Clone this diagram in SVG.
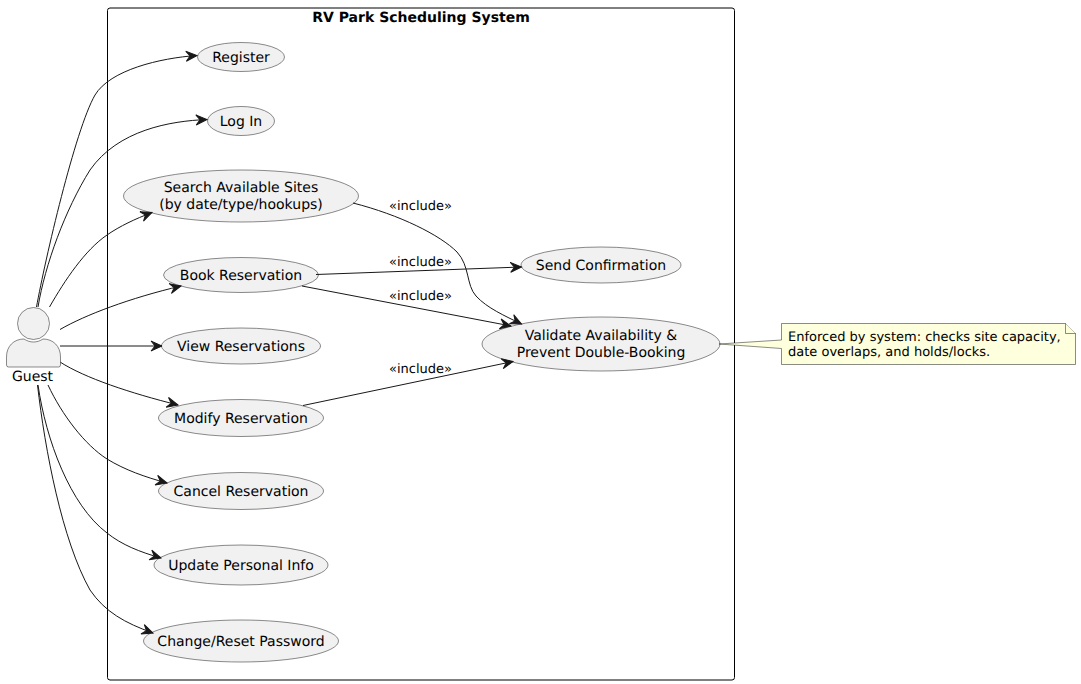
<svg xmlns="http://www.w3.org/2000/svg" width="1081" height="684" viewBox="0 0 1081 684">
<style>
text{font-family:"DejaVu Sans",sans-serif;font-size:14px;fill:#000;text-rendering:geometricPrecision}
.uc ellipse{fill:#F1F1F1;stroke:#181818;stroke-width:.5}
.c{fill:none;stroke:#181818;stroke-width:1}
.h{fill:#181818;stroke:#181818;stroke-width:1}
.l{font-size:13px}
.m{text-anchor:middle}
</style>
<defs>
<marker id="a" markerUnits="userSpaceOnUse" markerWidth="14" markerHeight="12" refX="11" refY="5" orient="auto" overflow="visible"><path class="h" d="M0,0 L11,5 L0,10 L4,5 Z"/></marker>
</defs>
<g id="system">
<rect x="107.5" y="8" width="627" height="672" rx="2.5" fill="none" stroke="#000" stroke-width="1"/>
<text x="421" y="22" class="m" style="font-weight:bold">RV Park Scheduling System</text>
</g>
<g class="uc" id="register"><ellipse cx="241" cy="57" rx="43.5" ry="14.5"/><text x="241" y="62" class="m">Register</text></g>
<g class="uc" id="login"><ellipse cx="241" cy="121" rx="33.5" ry="14.5"/><text x="241" y="126" class="m">Log In</text></g>
<g class="uc" id="search"><ellipse cx="241" cy="196" rx="117.5" ry="26"/><text x="241" y="192" class="m">Search Available Sites</text><text x="241" y="209" class="m">(by date/type/hookups)</text></g>
<g class="uc" id="book"><ellipse cx="241" cy="275" rx="77.5" ry="17.5"/><text x="241" y="280" class="m">Book Reservation</text></g>
<g class="uc" id="view"><ellipse cx="241" cy="346" rx="79.5" ry="18"/><text x="241" y="351" class="m">View Reservations</text></g>
<g class="uc" id="modify"><ellipse cx="241" cy="418" rx="82.5" ry="18.5"/><text x="241" y="423" class="m">Modify Reservation</text></g>
<g class="uc" id="cancel"><ellipse cx="241" cy="491" rx="82.5" ry="18.5"/><text x="241" y="496" class="m">Cancel Reservation</text></g>
<g class="uc" id="update"><ellipse cx="241" cy="565" rx="87" ry="20"/><text x="241" y="570" class="m">Update Personal Info</text></g>
<g class="uc" id="password"><ellipse cx="241" cy="641" rx="97.5" ry="21"/><text x="241" y="646" class="m">Change/Reset Password</text></g>
<g class="uc" id="confirm"><ellipse cx="601" cy="265" rx="80" ry="18"/><text x="601" y="270" class="m">Send Confirmation</text></g>
<g class="uc" id="validate"><ellipse cx="601" cy="344" rx="119" ry="27"/><text x="601" y="340" class="m">Validate Availability &amp;</text><text x="601" y="357" class="m">Prevent Double-Booking</text></g>
<g id="connectors">
<path class="c" marker-end="url(#a)" d="M36.5,307 C45,260 75,130 95,95 C110,70 160,58 197,55.5"/>
<path class="c" marker-end="url(#a)" d="M38,307 C45,265 65,210 90,170 C118,130 170,121 207,119.5"/>
<path class="c" marker-end="url(#a)" d="M49.5,307 C65,280 85,250 107,235 C120,226 135,219 152,212.5"/>
<path class="c" marker-end="url(#a)" d="M60,329.5 C85,315 130,298 181,286"/>
<path class="c" marker-end="url(#a)" d="M60,346 L162,346"/>
<path class="c" marker-end="url(#a)" d="M60,362 C85,378 130,393 178,405"/>
<path class="c" marker-end="url(#a)" d="M48,385 C62,415 85,445 107,459 C125,470 145,477 167,483"/>
<path class="c" marker-end="url(#a)" d="M38,385 C46,440 70,505 107,533 C122,545 140,552 161,558"/>
<path class="c" marker-end="url(#a)" d="M37.5,385 C45,450 62,540 90,590 C105,612 125,623 153,633"/>
<path class="c" marker-end="url(#a)" d="M353,203 C400,215 440,235 457,252 C470,266 466,285 476,296 C487,308 505,316 521.5,324"/>
<path class="c" marker-end="url(#a)" d="M316,274.5 L521.5,267"/>
<path class="c" marker-end="url(#a)" d="M302,286 L511,326"/>
<path class="c" marker-end="url(#a)" d="M303,405.5 L513,361.5"/>
<text class="l" x="389" y="210">«include»</text>
<text class="l" x="389" y="266">«include»</text>
<text class="l" x="389" y="300">«include»</text>
<text class="l" x="389" y="373">«include»</text>
</g>
<g id="guest">
<circle cx="33.5" cy="323.5" r="16" fill="#F1F1F1" stroke="#181818" stroke-width=".5"/>
<path d="M6.5,365 V357 C6.5,346 14,339 24,339 C30,343 37,343 43,339 C53,339 60.5,346 60.5,357 V365 Q60.5,367 58.5,367 H8.5 Q6.5,367 6.5,365 Z" fill="#F1F1F1" stroke="#181818" stroke-width=".5"/>
<text x="32.5" y="381" class="m">Guest</text>
</g>
<g id="note">
<path d="M781.5,323.5 H1065.5 L1075.5,333.5 V364.5 H781.5 V348.5 L719,344 L781.5,340 Z" fill="#FEFFDD" stroke="#181818" stroke-width=".5"/>
<path d="M1065.5,323.5 V333.5 H1075.5" fill="#FEFFDD" stroke="#181818" stroke-width=".5"/>
<text x="788" y="341" style="font-size:13px">Enforced by system: checks site capacity,</text>
<text x="788" y="356" style="font-size:13px">date overlaps, and holds/locks.</text>
</g>
</svg>
